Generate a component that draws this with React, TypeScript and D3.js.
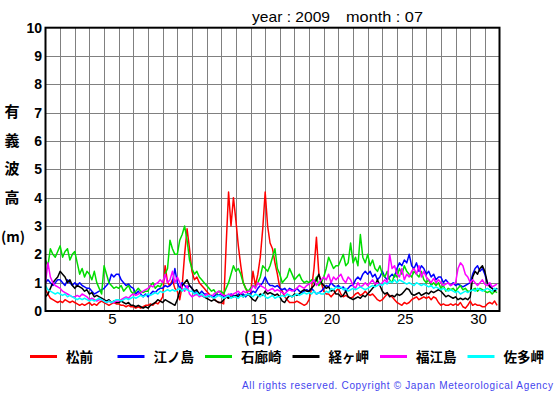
import React from "react";
import * as d3 from "d3";

// 4-hourly significant wave height (m), July 2009, 6 values per day
const matsumae = [
  0.75,0.6,0.45,0.4,0.35,0.3, 0.35,0.3,0.4,0.35,0.3,0.35, 0.3,0.25,0.2,0.25,0.2,0.25, 0.3,0.2,0.25,0.2,0.3,0.35,
  0.3,0.25,0.2,0.25,0.3,0.25, 0.25,0.2,0.2,0.15,0.2,0.15, 0.15,0.1,0.15,0.1,0.15,0.2, 0.2,0.25,0.2,0.3,0.25,0.35,
  0.5,1.6,1.0,0.9,1.1,0.8, 0.7,0.4,0.9,2.0,2.9,2.2, 1.4,1.1,1.2,1.0,0.9,0.8, 0.7,0.6,0.5,0.45,0.35,0.3,
  0.3,0.25,2.3,4.2,3.0,4.0, 3.2,2.3,1.6,1.0,0.8,0.6, 0.6,1.4,0.9,1.3,1.9,2.9, 4.2,3.0,2.4,2.2,1.7,1.3,
  0.8,0.7,0.5,0.4,0.3,0.3, 0.3,0.35,0.3,0.25,0.2,0.25, 0.4,0.8,1.5,2.6,1.3,1.0, 0.7,0.6,0.6,0.5,0.6,0.7,
  0.8,0.6,0.5,0.55,0.5,0.45, 0.5,0.6,0.65,0.55,0.6,0.7, 0.6,0.55,0.6,0.5,0.4,0.35, 0.4,0.5,0.6,0.55,0.5,0.4,
  0.3,0.25,0.2,0.3,0.25,0.3, 0.4,0.45,0.5,0.4,0.45,0.5, 0.45,0.5,0.4,0.5,0.45,0.3, 0.2,0.25,0.2,0.2,0.25,0.2,
  0.25,0.2,0.3,0.15,0.1,0.2, 0.35,0.2,0.25,0.2,0.2,0.15, 0.15,0.25,0.3,0.25,0.35,0.2,
];
const enoshima = [
  1.0,1.1,1.0,0.9,1.0,1.1, 1.1,1.0,0.9,1.1,1.0,0.9, 1.0,0.9,1.0,0.9,0.85,0.8, 0.8,0.7,0.6,0.65,0.7,0.75,
  0.8,0.9,1.0,1.3,1.2,1.3, 1.3,1.1,1.0,0.9,0.95,0.85, 0.8,0.6,0.7,0.6,0.5,0.6, 0.5,0.6,0.7,0.65,0.75,0.8,
  0.8,0.9,0.85,0.9,1.0,1.5, 1.0,0.8,1.0,0.9,0.8,0.9, 0.8,0.6,0.7,0.6,0.7,0.6, 0.6,0.5,0.55,0.5,0.6,0.55,
  0.6,0.5,0.55,0.5,0.6,0.55, 0.5,0.6,0.55,0.6,0.5,0.6, 0.6,0.7,0.65,0.8,0.9,1.0, 1.2,1.0,0.9,0.9,0.85,0.9,
  0.8,0.75,0.8,0.7,0.8,0.75, 0.7,0.8,0.7,0.65,0.7,0.75, 0.7,0.8,0.7,0.6,0.65,0.7, 0.8,0.9,0.85,1.0,0.9,0.85,
  0.9,0.8,0.85,0.7,0.8,0.9, 0.9,1.1,1.2,1.1,1.3,1.4, 1.3,1.4,1.2,1.3,1.1,1.2, 1.4,1.2,1.1,1.2,1.3,1.2,
  1.5,1.7,1.6,1.8,1.7,2.0, 1.6,1.5,1.7,1.4,1.6,1.5, 1.3,1.4,1.2,1.3,1.1,1.2, 1.2,1.0,1.1,1.0,0.9,1.0,
  0.9,0.95,0.9,0.85,0.9,0.95, 1.0,1.3,1.5,1.6,1.4,1.5, 1.3,1.0,0.9,0.8,0.7,0.8,
];
const irozaki = [
  1.8,1.6,2.2,2.0,1.9,2.1, 2.3,1.9,2.1,2.2,1.8,2.0, 2.1,1.7,1.3,1.5,1.2,1.4, 1.3,1.1,1.4,1.0,0.8,0.6,
  1.6,1.3,1.0,0.9,0.8,0.85, 0.8,0.9,0.7,0.8,0.9,0.7, 0.6,0.7,0.8,0.7,0.65,0.7, 0.7,0.9,1.0,0.8,0.9,0.85,
  1.0,1.3,1.5,2.5,2.2,2.0, 2.0,2.5,2.7,3.0,2.5,1.8, 1.5,1.3,1.4,1.2,1.1,1.0, 0.9,0.8,0.7,0.75,0.6,0.7,
  0.7,0.6,0.8,1.0,1.3,1.6, 1.4,1.5,1.3,1.0,0.8,0.7, 0.8,0.9,0.85,1.0,1.2,1.6, 1.5,1.4,1.6,1.9,2.2,1.5,
  1.3,1.0,1.1,1.2,1.5,1.3, 1.1,1.2,1.3,1.1,1.0,1.05, 1.0,1.1,1.0,1.2,0.9,1.0, 1.2,1.5,1.9,1.7,1.5,1.6,
  1.6,1.8,2.0,1.6,1.7,2.4, 1.7,1.9,1.6,2.7,1.9,1.7, 2.0,1.6,1.8,1.5,1.4,1.6, 1.3,1.2,1.4,1.1,1.0,1.3,
  1.2,1.5,1.3,1.6,1.4,1.3, 1.2,1.4,1.3,1.2,1.4,1.1, 1.0,1.1,0.9,1.0,0.9,1.0, 0.8,0.9,0.7,0.8,0.75,0.8,
  0.7,0.8,0.9,0.75,0.8,0.7, 0.7,0.75,0.8,0.7,0.8,0.75, 0.7,0.65,0.7,0.6,0.7,0.65,
];
const kyogamisaki = [
  0.5,0.6,0.8,1.0,1.1,1.2, 1.4,1.3,1.2,1.0,1.1,0.9, 0.8,0.9,0.85,0.8,0.7,0.75, 0.6,0.65,0.5,0.55,0.5,0.45,
  0.4,0.35,0.4,0.3,0.35,0.3, 0.3,0.35,0.3,0.25,0.3,0.2, 0.2,0.15,0.2,0.15,0.1,0.15, 0.1,0.2,0.25,0.3,0.4,0.35,
  0.3,0.4,0.35,0.3,0.25,0.2, 0.4,0.7,0.9,1.0,1.1,0.9, 0.8,0.7,0.75,0.6,0.55,0.5, 0.45,0.4,0.35,0.4,0.35,0.3,
  0.3,0.4,0.5,0.45,0.55,0.5, 0.55,0.5,0.6,0.5,0.55,0.6, 0.5,0.4,0.35,0.5,0.6,0.55, 0.7,0.6,0.65,0.6,0.55,0.6,
  0.5,0.35,0.3,0.45,0.55,0.5, 0.6,0.55,0.6,0.7,0.75,0.7, 0.7,0.8,0.9,1.1,1.3,1.0, 0.9,0.8,0.85,0.7,0.75,0.6,
  0.6,0.5,0.55,0.7,0.5,0.45, 0.4,0.45,0.5,0.45,0.55,0.5, 0.6,0.7,0.8,0.9,1.1,0.9, 0.7,0.6,0.65,0.5,0.55,0.5,
  0.6,0.55,0.6,0.7,0.8,0.75, 0.6,0.55,0.6,0.65,0.55,0.6, 0.65,0.6,0.7,0.65,0.7,0.75, 0.7,0.6,0.5,0.55,0.5,0.45,
  0.5,0.4,0.45,0.4,0.45,0.4, 0.5,1.2,1.4,1.3,1.5,1.6, 1.4,1.0,0.85,0.8,0.7,0.8,
];
const fukuejima = [
  1.0,1.7,1.2,1.0,0.9,0.85, 0.8,0.7,0.65,0.6,0.55,0.5, 0.5,0.55,0.5,0.6,0.55,0.5, 0.4,0.45,0.4,0.35,0.4,0.4,
  0.35,0.3,0.35,0.3,0.3,0.35, 0.35,0.4,0.45,0.5,0.45,0.55, 0.6,0.55,0.6,0.65,0.7,0.75, 0.8,0.9,0.85,0.95,1.0,1.1,
  1.0,1.3,1.0,1.1,1.4,1.0, 1.2,1.0,0.8,0.7,0.9,0.6, 0.5,0.55,0.6,0.5,0.55,0.5, 0.6,0.55,0.5,0.6,0.65,0.7,
  0.6,0.55,0.5,0.6,0.55,0.6, 0.65,0.7,0.6,0.7,0.65,0.7, 0.7,0.9,0.8,1.0,0.9,0.85, 0.8,0.7,0.75,0.8,0.7,0.75,
  0.7,0.65,0.6,0.7,0.75,0.7, 0.75,0.8,0.9,0.85,0.8,0.9, 0.95,1.0,1.1,0.9,1.0,1.1, 1.2,1.1,1.3,1.0,1.2,1.1,
  1.2,1.3,1.1,1.0,1.2,1.1, 0.9,0.8,1.0,0.85,0.9,1.0, 0.9,1.0,1.1,0.95,1.0,0.9, 1.0,1.1,1.0,2.0,1.5,1.6,
  1.3,1.2,1.5,1.1,1.3,1.2, 1.4,1.5,1.3,1.6,1.2,1.4, 1.2,1.1,1.0,1.15,1.0,1.1, 1.0,0.9,0.95,1.0,0.9,0.95,
  1.0,1.5,1.7,1.6,1.3,1.2, 1.0,1.1,1.0,0.9,1.0,1.1, 0.95,0.9,1.0,0.85,0.9,0.95,
];
const satamisaki = [
  0.9,0.75,0.7,0.65,0.6,0.65, 0.6,0.55,0.6,0.5,0.55,0.5, 0.45,0.4,0.45,0.4,0.45,0.4, 0.35,0.4,0.35,0.4,0.45,0.4,
  0.35,0.3,0.35,0.3,0.35,0.4, 0.4,0.35,0.4,0.45,0.4,0.45, 0.5,0.45,0.5,0.55,0.5,0.55, 0.6,0.55,0.6,0.65,0.6,0.7,
  0.65,0.7,0.75,0.7,0.75,0.7, 0.75,0.8,0.7,0.8,0.75,0.7, 0.7,0.6,0.65,0.55,0.6,0.5, 0.5,0.55,0.5,0.45,0.5,0.55,
  0.5,0.45,0.5,0.55,0.45,0.5, 0.5,0.45,0.55,0.5,0.55,0.6, 0.55,0.5,0.6,0.55,0.5,0.6, 0.5,0.45,0.5,0.55,0.45,0.5,
  0.5,0.55,0.5,0.6,0.55,0.5, 0.55,0.6,0.55,0.6,0.65,0.6, 0.65,0.6,0.7,0.6,0.65,0.6, 0.6,0.7,0.65,0.8,0.75,0.85,
  0.8,0.85,0.75,0.8,0.7,0.75, 0.8,0.75,0.8,0.85,0.8,0.75, 0.8,0.85,0.9,0.85,0.9,0.95, 0.9,1.0,0.95,1.05,1.0,1.1,
  1.0,1.1,1.05,1.0,0.95,1.0, 0.95,0.9,1.0,0.95,0.9,0.95, 0.9,0.85,0.9,0.8,0.85,0.8, 0.75,0.8,0.75,0.7,0.75,0.7,
  0.65,0.7,0.6,0.65,0.7,0.65, 0.7,0.75,0.7,0.8,0.75,0.7, 0.75,0.8,0.75,0.7,0.8,0.75,
];

const seriesNames = ["松前", "江ノ島", "石廊崎", "経ヶ岬", "福江島", "佐多岬"];
const seriesColors = ["#ff0000", "#0000ff", "#00dd00", "#000000", "#ff00ff", "#00ffff"];
const seriesData = [matsumae, enoshima, irozaki, kyogamisaki, fukuejima, satamisaki];
const xTickLabels = [5, 10, 15, 20, 25, 30];
const yTickLabels = [0, 1, 2, 3, 4, 5, 6, 7, 8, 9, 10];
const yTitleChars = ["有", "義", "波", "高"];
const STEPS_PER_DAY = 6;
const DAYS = 31;

export default function App() {
  const left = 45.5, right = 499.5, top = 27.7, bottom = 311;
  const x = d3.scaleLinear().domain([0, DAYS]).range([left, right]);
  const y = d3.scaleLinear().domain([0, 10]).range([bottom, top]);
  const line = d3
    .line<number>()
    .x((_, i) => x(i / STEPS_PER_DAY))
    .y((d) => y(d));
  const sans = "'Liberation Sans', Arial, sans-serif";
  const cjk = "'Noto Sans CJK JP', sans-serif";
  const legendX = [30, 117.5, 205, 292.5, 380, 467.5];

  return (
    <svg
      width={555}
      height={395}
      style={{ position: "absolute", left: 0, top: 0, background: "#fff" }}
    >
      <defs>
        <clipPath id="plot">
          <rect x={left} y={top} width={right - left} height={bottom - top} />
        </clipPath>
      </defs>
      <text x={252} y={22} fontFamily={sans} fontSize={15} textLength={78} lengthAdjust="spacingAndGlyphs">year : 2009</text>
      <text x={346} y={22} fontFamily={sans} fontSize={15} textLength={77} lengthAdjust="spacingAndGlyphs">month : 07</text>

      {d3.range(1, DAYS).map((d) => (
        <line key={"v" + d} x1={Math.round(x(d)) + 0.5} x2={Math.round(x(d)) + 0.5} y1={top} y2={bottom} stroke="#808080" strokeWidth={1} />
      ))}
      {yTickLabels.slice(1, -1).map((v) => (
        <line key={"h" + v} x1={left} x2={right} y1={Math.round(y(v)) + 0.5} y2={Math.round(y(v)) + 0.5} stroke="#808080" strokeWidth={1} />
      ))}

      <g clipPath="url(#plot)">
        {seriesData.map((s, i) => (
          <path key={i} d={line(s) || ""} fill="none" stroke={seriesColors[i]} strokeWidth={1.5} strokeLinejoin="round" />
        ))}
      </g>

      <rect x={left} y={top} width={right - left} height={bottom - top} fill="none" stroke="#000" strokeWidth={2} />

      {yTickLabels.map((v) => (
        <text key={"yl" + v} x={42} y={y(v) + 5} textAnchor="end" fontFamily={sans} fontWeight="bold" fontSize={14}>
          {v}
        </text>
      ))}
      {xTickLabels.map((v) => (
        <text key={"xl" + v} x={x(v - 0.5) + 1} y={324} textAnchor="middle" fontFamily={sans} fontSize={15}>
          {v}
        </text>
      ))}
      <text x={244} y={343} fontFamily={cjk} fontWeight="bold" fontSize={15} textLength={29} lengthAdjust="spacing">(日)</text>

      {yTitleChars.map((c, i) => (
        <text key={c} x={12} y={111.5 + i * 28.6 + 5.5} textAnchor="middle" fontFamily={cjk} fontWeight="bold" fontSize={15}>
          {c}
        </text>
      ))}
      <text x={1} y={242} fontFamily={cjk} fontWeight="bold" fontSize={14} textLength={24} lengthAdjust="spacing">(m)</text>

      {seriesNames.map((n, i) => (
        <g key={n}>
          <line x1={legendX[i]} x2={legendX[i] + 27} y1={356.5} y2={356.5} stroke={seriesColors[i]} strokeWidth={3} />
          <text x={legendX[i] + 36} y={361.5} fontFamily={cjk} fontWeight="bold" fontSize={13.5}>{n}</text>
        </g>
      ))}

      <text x={242} y={389} fontFamily={sans} fontSize={10} fill="#4444ee" textLength={311} lengthAdjust="spacing">
        All rights reserved. Copyright © Japan Meteorological Agency
      </text>
    </svg>
  );
}
